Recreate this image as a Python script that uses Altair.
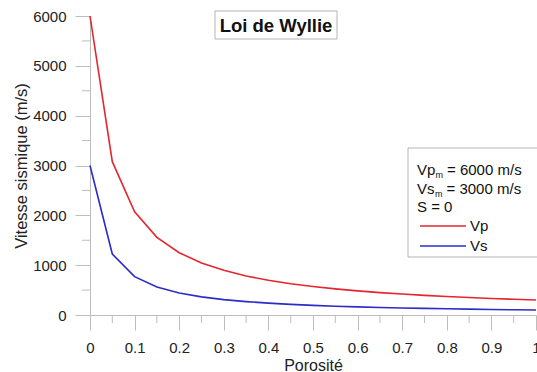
import altair as alt
import pandas as pd

# Porosity steps and velocities (m/s) for the Wyllie time-average law
porosite = [0.0, 0.05, 0.1, 0.15, 0.2, 0.25, 0.3, 0.35, 0.4, 0.45, 0.5,
            0.55, 0.6, 0.65, 0.7, 0.75, 0.8, 0.85, 0.9, 0.95, 1.0]
vp = [6000, 3077, 2069, 1558, 1250, 1043, 896, 784, 698, 628, 571,
      524, 484, 449, 420, 393, 370, 350, 331, 315, 300]
vs = [3000, 1224, 769, 561, 441, 364, 309, 269, 238, 214, 194,
      177, 163, 151, 141, 132, 124, 117, 111, 105, 100]

x_major = [0, 0.1, 0.2, 0.3, 0.4, 0.5, 0.6, 0.7, 0.8, 0.9, 1]
x_minor = [0.05, 0.15, 0.25, 0.35, 0.45, 0.55, 0.65, 0.75, 0.85, 0.95]
y_major = [0, 1000, 2000, 3000, 4000, 5000, 6000]
y_minor = [500, 1500, 2500, 3500, 4500, 5500]

RED = "#e4262f"
BLUE = "#2c2cc8"
GRAY = "#bdbdbd"
FONT = "Liberation Sans"

df = pd.DataFrame({
    "Porosité": porosite * 2,
    "Vitesse": vp + vs,
    "Onde": ["Vp"] * len(vp) + ["Vs"] * len(vs),
})

W, H = 446, 299
xs = alt.Scale(domain=[0, 1], nice=False)
ys = alt.Scale(domain=[0, 6000], nice=False)

lines = alt.Chart(df).mark_line(strokeWidth=1.6, clip=False).encode(
    x=alt.X("Porosité:Q", scale=xs,
            axis=alt.Axis(values=x_major, title="Porosité", format="~g",
                          tickSize=15, tickColor=GRAY, domainColor=GRAY,
                          labelPadding=10, labelFontSize=15, labelColor="#222",
                          labelFont=FONT, titleFont=FONT, titleFontSize=16,
                          titleFontWeight="normal", titleColor="#222",
                          titlePadding=2, grid=False, labelFlush=False)),
    y=alt.Y("Vitesse:Q", scale=ys,
            axis=alt.Axis(values=y_major, title="Vitesse sismique (m/s)",
                          format="d",
                          tickSize=15, tickColor=GRAY, domainColor=GRAY,
                          labelPadding=9, labelFontSize=15, labelColor="#222",
                          labelFont=FONT, titleFont=FONT, titleFontSize=16.5,
                          titleFontWeight="normal", titleColor="#222",
                          titlePadding=3, grid=False, labelFlush=False)),
    color=alt.Color("Onde:N", scale=alt.Scale(domain=["Vp", "Vs"], range=[RED, BLUE]),
                    legend=None),
)

# minor ticks
xm = alt.Chart(pd.DataFrame({"x": x_minor})).mark_rule(color=GRAY, clip=False).encode(
    x=alt.X("x:Q", scale=xs), y=alt.value(H), y2=alt.value(H + 8))
ym = alt.Chart(pd.DataFrame({"y": y_minor})).mark_rule(color=GRAY, clip=False).encode(
    y=alt.Y("y:Q", scale=ys), x=alt.value(-8), x2=alt.value(0))

# title box
tbox = alt.Chart(pd.DataFrame({"a": [0]})).mark_rect(
    fill="white", stroke="#b5b5b5", strokeWidth=1).encode(
    x=alt.value(125), x2=alt.value(247), y=alt.value(-5), y2=alt.value(23))
ttext = alt.Chart(pd.DataFrame({"t": ["Loi de Wyllie"]})).mark_text(
    font=FONT, fontSize=18.5, fontWeight="bold", color="#111",
    align="center", baseline="middle").encode(
    text="t:N", x=alt.value(186), y=alt.value(10))

# legend box
lbox = alt.Chart(pd.DataFrame({"a": [0]})).mark_rect(
    fill="white", stroke="#b5b5b5", strokeWidth=1).encode(
    x=alt.value(318), x2=alt.value(452), y=alt.value(132), y2=alt.value(241))


def txt(s, x, y, size=15):
    return alt.Chart(pd.DataFrame({"t": [s]})).mark_text(
        font=FONT, fontSize=size, color="#111", align="left",
        baseline="middle").encode(text="t:N", x=alt.value(x), y=alt.value(y))


legend_texts = [
    txt("Vp", 327, 154), txt("m", 345.5, 159, 9), txt("= 6000 m/s", 357, 154),
    txt("Vs", 327, 173), txt("m", 345, 178, 9), txt("= 3000 m/s", 356.5, 173),
    txt("S = 0", 327, 191),
    txt("Vp", 380, 210), txt("Vs", 380, 230),
]
sw_p = alt.Chart(pd.DataFrame({"a": [0]})).mark_rule(color=RED, strokeWidth=1.6).encode(
    x=alt.value(330), x2=alt.value(376), y=alt.value(210))
sw_s = alt.Chart(pd.DataFrame({"a": [0]})).mark_rule(color=BLUE, strokeWidth=1.6).encode(
    x=alt.value(330), x2=alt.value(376), y=alt.value(230))

chart = alt.layer(lines, xm, ym, tbox, ttext, lbox, *legend_texts, sw_p, sw_s).properties(
    width=W, height=H,
    padding={"left": 90, "top": 16, "right": 1, "bottom": 57},
    autosize=alt.AutoSizeParams(type="none"),
    background="white",
).configure_view(stroke=None)

chart.save("out.html", embed_options={"renderer": "svg", "actions": False})
